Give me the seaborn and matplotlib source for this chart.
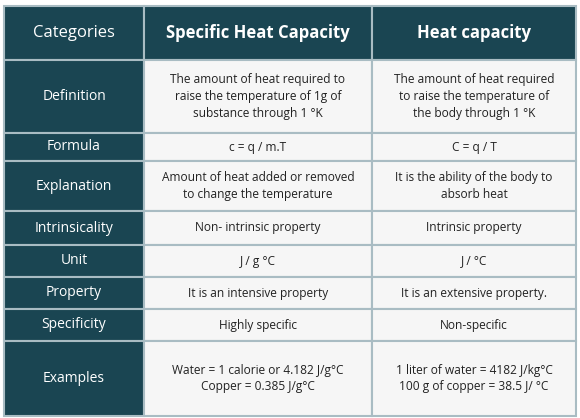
import matplotlib.pyplot as plt
import seaborn as sns
from matplotlib.patches import Rectangle

sns.set_theme(style="white")
plt.rcParams['font.family'] = ['Open Sans', 'DejaVu Sans']

# table content
headers = ["Categories", "Specific Heat Capacity", "Heat capacity"]
categories = ["Definition", "Formula", "Explanation", "Intrinsicality", "Unit",
              "Property", "Specificity", "Examples"]
specific_heat = [
    "The amount of heat required to\nraise the temperature of 1g of\nsubstance through 1 °K",
    "c = q / m.T",
    "Amount of heat added or removed\nto change the temperature",
    "Non- intrinsic property",
    "J / g °C",
    "It is an intensive property",
    "Highly specific",
    "Water = 1 calorie or 4.182 J/g°C\nCopper = 0.385 J/g°C",
]
heat_capacity = [
    "The amount of heat required\nto raise the temperature of\nthe body through 1 °K",
    "C = q / T",
    "It is the ability of the body to\nabsorb heat",
    "Intrinsic property",
    "J / °C",
    "It is an extensive property.",
    "Non-specific",
    "1 liter of water = 4182 J/kg°C\n100 g of copper = 38.5 J/ °C",
]

dark = "#1a4552"
light = "#f6f6f6"
line = "#a9bcc3"
col_x = [4, 144, 372, 576]
row_y = [6, 60, 133, 161, 211, 245, 277, 309, 341, 416]

fig = plt.figure(figsize=(5.8, 4.18), dpi=100)
ax = fig.add_axes([0, 0, 1, 1])
ax.set_xlim(0, 580)
ax.set_ylim(418, 0)
ax.axis("off")

rows = [headers] + [[c, s, h] for c, s, h in zip(categories, specific_heat, heat_capacity)]
for r, row in enumerate(rows):
    y0, y1 = row_y[r], row_y[r + 1]
    for c, txt in enumerate(row):
        x0, x1 = col_x[c], col_x[c + 1]
        is_dark = r == 0 or c == 0
        ax.add_patch(Rectangle((x0, y0), x1 - x0, y1 - y0,
                               facecolor=dark if is_dark else light,
                               edgecolor=line, linewidth=1.5))
        if r == 0:
            fs, fw = (12, "normal") if c == 0 else (12, "bold")
        elif c == 0:
            fs, fw = 10, "normal"
        else:
            fs, fw = 8.6, "normal"
        ax.text((x0 + x1) / 2, (y0 + y1) / 2, txt, ha="center", va="center",
                fontsize=fs, fontweight=fw, linespacing=1.35,
                color="white" if is_dark else "#222222")

fig.savefig("out.png", dpi=100)
